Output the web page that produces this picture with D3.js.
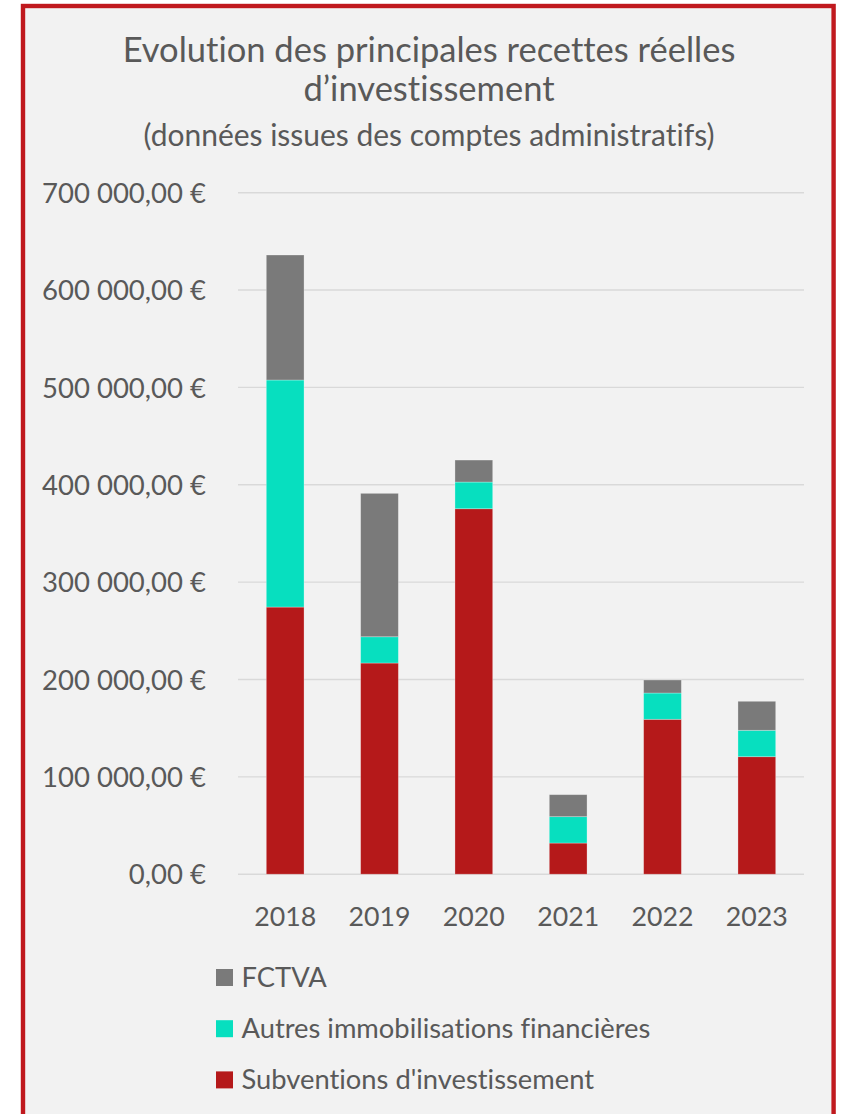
<!DOCTYPE html>
<html>
<head>
<meta charset="utf-8">
<script src="https://cdn.jsdelivr.net/npm/d3@7"></script>
<style>
  html, body { margin: 0; padding: 0; background: #ffffff; }
  svg { display: block; }
  text { font-family: Lato, "Open Sans", sans-serif; fill: #595959; font-variant-ligatures: none; }
</style>
</head>
<body>
<svg id="chart" width="844" height="1114"></svg>
<script>
// Années (catégories)
const years = ["2018", "2019", "2020", "2021", "2022", "2023"];

// Montants par poste (en euros)
const subventions = [274400, 216900, 375400, 32000, 159100, 120700];
const autresImmo = [233200, 27000, 27400, 27100, 27000, 27100];
const fctva = [128400, 147300, 22600, 22600, 13400, 29800];

// Libellés des séries, de bas en haut de la pile
const seriesNames = ["Subventions d'investissement", "Autres immobilisations financières", "FCTVA"];
const seriesColors = ["#b5191a", "#07dfbf", "#7a7a7a"];

// Graduations de l'axe des ordonnées
const yTicks = [0, 100000, 200000, 300000, 400000, 500000, 600000, 700000];

const titleLines = ["Evolution des principales recettes réelles", "d\u2019investissement"];
const subtitle = "(données issues des comptes administratifs)";

const svg = d3.select("#chart");
const W = 844, H = 1114;

// Cadre du graphique
svg.append("rect")
  .attr("x", 23).attr("y", 6)
  .attr("width", 810.6).attr("height", H + 20)
  .attr("fill", "#f2f2f2")
  .attr("stroke", "#c0191e")
  .attr("stroke-width", 4.4);

// Ajuste la taille de police pour obtenir une largeur donnée
function fitSize(sel, target) {
  sel.attr("font-size", 100);
  const w = sel.node().getComputedTextLength();
  const s = 100 * target / w;
  sel.attr("font-size", s);
  return s;
}

const cx = 429;
const t1 = svg.append("text").attr("x", cx).attr("y", 62).attr("text-anchor", "middle")
  .attr("fill", "#5f5f5f").text(titleLines[0]);
const titleSize = fitSize(t1, 613);
svg.append("text").attr("x", cx).attr("y", 101).attr("text-anchor", "middle")
  .attr("fill", "#5f5f5f").attr("font-size", titleSize).text(titleLines[1]);
const st = svg.append("text").attr("x", cx).attr("y", 146).attr("text-anchor", "middle").text(subtitle);
fitSize(st, 571);

// Échelles
const plot = { left: 238, right: 804, top: 192.7, bottom: 874.2 };
const x = d3.scaleBand().domain(years).range([plot.left, plot.right])
  .paddingInner(0.6).paddingOuter(0.3);
const y = d3.scaleLinear().domain([0, 700000]).range([plot.bottom, plot.top]);

const fr = d3.formatLocale({
  decimal: ",", thousands: "\u00a0", grouping: [3], currency: ["", "\u00a0€"]
});
const fmt = fr.format("$,.2f");

// Quadrillage horizontal
svg.append("g")
  .selectAll("line").data(yTicks).join("line")
  .attr("x1", plot.left).attr("x2", plot.right)
  .attr("y1", d => y(d)).attr("y2", d => y(d))
  .attr("stroke", "#d9d9d9").attr("stroke-width", 1.4);

// Axe des ordonnées
const yAxis = d3.axisLeft(y).tickValues(yTicks).tickFormat(fmt).tickSize(0).tickPadding(0);
const gy = svg.append("g").attr("transform", "translate(206,0)").call(yAxis);
gy.select(".domain").remove();
gy.selectAll("text").attr("fill", "#595959").attr("font-family", null);
const probe = gy.selectAll("text").filter(d => d === 700000);
const tickSize = fitSize(probe, 164);
gy.selectAll("text").attr("font-size", tickSize).attr("dy", "0.35em");
gy.attr("font-size", null).attr("font-family", null);

// Axe des abscisses
const xAxis = d3.axisBottom(x).tickSize(0).tickPadding(0);
const gx = svg.append("g").attr("transform", "translate(0,926)").call(xAxis);
gx.select(".domain").remove();
gx.selectAll("text").attr("fill", "#595959").attr("dy", 0).attr("y", 0);
const xs = fitSize(gx.selectAll("text").filter(d => d === "2018"), 62);
gx.selectAll("text").attr("font-size", xs);
gx.attr("font-size", null).attr("font-family", null);

// Piles
const rows = years.map((yr, i) => ({
  year: yr,
  [seriesNames[0]]: subventions[i],
  [seriesNames[1]]: autresImmo[i],
  [seriesNames[2]]: fctva[i]
}));
const stack = d3.stack().keys(seriesNames)(rows);

svg.append("g").selectAll("g").data(stack).join("g")
  .attr("fill", (d, i) => seriesColors[i])
  .selectAll("rect").data(d => d).join("rect")
  .attr("x", d => x(d.data.year))
  .attr("width", x.bandwidth())
  .attr("y", d => y(d[1]))
  .attr("height", d => y(d[0]) - y(d[1]))
  .attr("stroke", "rgba(255,255,255,0.35)")
  .attr("stroke-width", 0.8);

// Légende (FCTVA en haut)
const legendOrder = [2, 1, 0];
const lg = svg.append("g");
const legendItems = legendOrder.map((k, j) => {
  const cy = 977.5 + j * 51.2;
  lg.append("rect").attr("x", 216).attr("y", cy - 8.5).attr("width", 17).attr("height", 17)
    .attr("fill", seriesColors[k]);
  return lg.append("text").attr("x", 241.5).attr("y", cy).attr("dy", "0.35em").text(seriesNames[k]);
});
const legendSize = fitSize(legendItems[1], 409);
legendItems.forEach(t => t.attr("font-size", legendSize));
</script>
</body>
</html>
